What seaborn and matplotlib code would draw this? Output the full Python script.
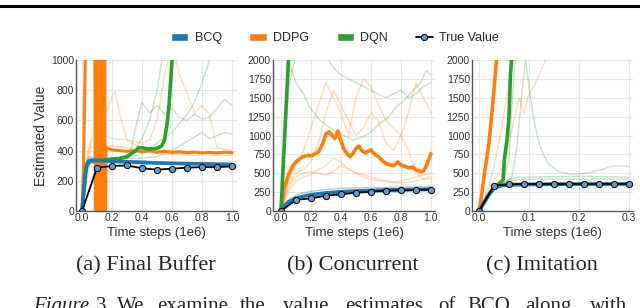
import numpy as np
import pandas as pd
import matplotlib
matplotlib.use("Agg")
import matplotlib.pyplot as plt
import seaborn as sns
from matplotlib.lines import Line2D
from matplotlib.patches import Patch

# ==========================================
# 1. DATA
# ==========================================
C_BCQ = "#1f77b4"
C_DDPG = "#ff7f0e"
C_DQN = "#2ca02c"

# ---- (a) Final Buffer ----
a_true_x = [0, .1, .2, .3, .4, .5, .6, .7, .8, .9, 1.0]
a_true_y = [0, 287, 298, 302, 283, 274, 280, 287, 291, 291, 295]

a_bcq_x = [0, .01, .02, .03, .04, .06, .1, .2, .3, .4, .5, .6, .7, .8, .9, 1.0]
a_bcq_y = [0, 110, 230, 300, 325, 338, 335, 330, 326, 322, 318, 316, 314, 312, 310, 308]
a_bcq_s1 = [0, 120, 260, 330, 350, 362, 345, 338, 332, 330, 325, 322, 320, 318, 316, 315]
a_bcq_s2 = [0, 90, 200, 270, 300, 315, 322, 320, 315, 312, 310, 308, 305, 303, 302, 300]

a_dqn_x = [0, .01, .02, .03, .04, .05, .1, .15, .2, .25, .3, .33, .36, .38, .4,
           .45, .5, .53, .55, .57, .58, .59, .6, .61]
a_dqn_y = [0, 100, 220, 290, 320, 330, 335, 338, 345, 348, 360, 380, 400, 420, 418,
           410, 415, 430, 470, 600, 700, 850, 1000, 1200]

a_ddpg_x = [0, .01, .02, .03, .04, .05, .08, .09, .094, .098, .102, .106, .11, .114,
            .118, .122, .126, .13, .134, .138, .142, .146, .15, .154, .16, .2, .25,
            .3, .35, .4, .45, .5, .55, .6, .65, .7, .75, .8, .85, .9, .95, 1.0]
a_ddpg_y = [0, 300, 900, 1600, 2600, 3000, 3000, -500, 3000, -500, 3000, -500, 3000,
            -500, 3000, -500, 3000, -500, 3000, -500, 3000, -500, 3000, -500, 420,
            405, 400, 395, 400, 392, 398, 390, 395, 388, 392, 386, 390, 385, 388,
            384, 390, 386]

a_ddpg_s1_x = [0, .03, .06, .1, .15, .2, .22, .25, .3, .35, .4, .5, .6, .7, .8, .9, 1.0]
a_ddpg_s1_y = [0, 350, 480, 500, 620, 760, 790, 650, 470, 440, 420, 410, 400, 395,
               390, 392, 388]
a_ddpg_s2_x = [0, .03, .06, .1, .15, .2, .3, .4, .45, .5, .55, .6, .65, .7, .75,
               .8, .85, .9, 1.0]
a_ddpg_s2_y = [0, 300, 460, 490, 500, 480, 470, 450, 470, 600, 900, 1100, 900, 780,
               650, 700, 640, 420, 400]
a_ddpg_s3_x = [0, .03, .06, .1, .2, .3, .4, .5, .6, .7, .8, .9, 1.0]
a_ddpg_s3_y = [0, 280, 420, 440, 430, 420, 400, 380, 375, 370, 372, 368, 370]

a_dqn_s1_x = [0, .03, .06, .1, .2, .3, .33, .36, .38, .4, .45, .5, .55, .6, .65,
              .7, .75, .8, .85, .9, .95, 1.0]
a_dqn_s1_y = [0, 300, 330, 340, 345, 350, 420, 560, 650, 720, 650, 700, 640, 680,
              620, 600, 640, 610, 620, 680, 740, 700]
a_dqn_s2_x = [0, .03, .06, .1, .2, .3, .4, .5, .55, .6, .65, .7, .75, .8, .85, .9,
              .95, 1.0]
a_dqn_s2_y = [0, 290, 320, 330, 340, 345, 350, 360, 380, 400, 430, 460, 490, 520,
              480, 500, 520, 510]
a_dqn_s3_x = [0, .03, .06, .1, .2, .3, .4, .5, .6, .7, .75, .8, .85, .88]
a_dqn_s3_y = [0, 300, 325, 335, 340, 350, 380, 450, 520, 640, 720, 850, 1000, 1100]
a_dqn_s4_x = [0, .05, .1, .2, .3, .35, .4, .45, .5, .55]
a_dqn_s4_y = [0, 310, 330, 340, 360, 400, 480, 600, 800, 1100]

# ---- (b) Concurrent ----
b_true_x = [0, .1, .2, .3, .4, .5, .6, .7, .8, .9, 1.0]
b_true_y = [0, 146, 168, 203, 221, 243, 256, 269, 274, 278, 283]

b_bcq_x = [0, .02, .05, .1, .15, .2, .3, .4, .5, .6, .7, .8, .9, 1.0]
b_bcq_y = [0, 60, 120, 170, 195, 215, 240, 255, 265, 272, 278, 282, 286, 290]
b_bcq_s1 = [0, 80, 150, 210, 240, 260, 285, 300, 305, 310, 312, 318, 320, 325]
b_bcq_s2 = [0, 40, 90, 140, 160, 180, 205, 220, 235, 245, 250, 255, 262, 265]

b_ddpg_x = [0, .02, .05, .08, .1, .13, .15, .18, .2, .23, .25, .28, .3, .32, .34,
            .36, .38, .4, .42, .44, .46, .48, .5, .52, .54, .56, .58, .6, .62, .65,
            .68, .7, .73, .75, .78, .8, .83, .85, .88, .9, .93, .95, .97, 1.0]
b_ddpg_y = [0, 280, 480, 600, 650, 700, 720, 740, 730, 760, 780, 900, 1020, 1050,
            1000, 960, 1060, 930, 820, 760, 720, 760, 830, 860, 800, 770, 790, 810,
            760, 720, 660, 630, 610, 600, 650, 610, 590, 570, 580, 545, 520, 530,
            600, 760]

b_dqn_x = [0, .02, .04, .05, .06]
b_dqn_y = [0, 800, 1600, 2000, 2400]

b_seed_x = [0, .05, .1, .15, .2, .25, .3, .35, .4, .45, .5, .55, .6, .65, .7, .75,
            .8, .85, .9, .95, 1.0]
b_ddpg_s1 = [0, 400, 600, 800, 1100, 1400, 1700, 1500, 1300, 1000, 1500, 1750, 1650,
             1400, 1200, 1100, 1000, 800, 500, 420, 460]
b_ddpg_s2 = [0, 350, 500, 550, 650, 900, 1300, 1600, 1400, 1200, 1000, 1100, 1300,
             1200, 900, 800, 1000, 1300, 1700, 1500, 1300]
b_ddpg_s3 = [0, 300, 450, 500, 520, 500, 480, 520, 600, 560, 500, 480, 450, 420,
             400, 380, 400, 420, 450, 480, 500]
b_ddpg_s4 = [0, 250, 400, 450, 480, 550, 600, 700, 650, 550, 500, 450, 420, 400,
             390, 380, 370, 380, 400, 420, 430]

b_dqn_s1_x = [0, .02, .05, .1, .15, .19, .26, .35, .42, .48, .55, .6, .66, .72, .77,
              .83, .88, .93, .97, 1.0]
b_dqn_s1_y = [0, 700, 2000, 1700, 1550, 1380, 1200, 1070, 1000, 940, 985, 1050, 1160,
              1250, 1380, 1480, 1600, 1700, 1860, 1800]
b_dqn_s2_x = [0, .02, .05, .1, .2, .25, .3, .35, .4, .45, .5, .55, .6, .65, .7, .75,
              .8, .85, .9, .95, 1.0]
b_dqn_s2_y = [0, 700, 1600, 2100, 2300, 2200, 2050, 1900, 1800, 1750, 1700, 1650,
              1600, 1550, 1500, 1550, 1600, 1500, 1550, 1650, 1700]

# ---- (c) Imitation ----
c_true_x = [0, .03, .06, .09, .12, .15, .18, .21, .24, .27, .30]
c_true_y = [0, 336, 353, 357, 358, 357, 358, 357, 358, 358, 358]

c_bcq_x = [0, .01, .02, .03, .04, .05, .06, .1, .15, .2, .25, .3]
c_bcq_y = [0, 110, 220, 300, 330, 342, 348, 352, 355, 356, 357, 358]
c_bcq_s1 = [0, 130, 250, 325, 350, 360, 365, 368, 370, 372, 372, 373]
c_bcq_s2 = [0, 90, 190, 275, 310, 325, 332, 338, 340, 342, 343, 344]

c_ddpg_x = [0, .005, .011, .02, .027, .035, .04]
c_ddpg_y = [0, 200, 500, 900, 1380, 2000, 2500]

c_dqn_x = [0, .01, .02, .03, .04, .048, .051, .056, .06, .063, .065, .067]
c_dqn_y = [0, 110, 220, 320, 360, 410, 700, 940, 1250, 1820, 2000, 2300]

c_ddpg_s1_x = [0, .01, .02, .03, .04, .05, .06, .07, .08]
c_ddpg_s1_y = [0, 150, 350, 600, 900, 1300, 1700, 2000, 2300]
c_ddpg_s2_x = [0, .02, .04, .05, .06, .07, .08, .09, .1, .11, .12, .13, .14]
c_ddpg_s2_y = [0, 300, 500, 650, 900, 1200, 1500, 1300, 1550, 1650, 1800, 1950, 2100]

c_dqn_s1_x = [0, .03, .05, .065, .075, .085, .093, .1, .11, .12, .13, .14, .16,
              .18, .2, .22, .24, .26, .27, .3]
c_dqn_s1_y = [0, 310, 380, 430, 800, 1500, 2000, 1650, 1200, 900, 730, 620, 520,
              490, 490, 510, 540, 580, 600, 590]
c_dqn_s2_x = [0, .03, .05, .06, .08, .1, .15, .2, .25, .3]
c_dqn_s2_y = [0, 300, 370, 420, 445, 450, 455, 460, 455, 445]
c_dqn_s3_y = [0, 300, 360, 400, 415, 420, 425, 420, 425, 420]
c_dqn_s4_x = [0, .03, .05, .06, .065, .07, .075]
c_dqn_s4_y = [0, 320, 400, 700, 1300, 1800, 2200]

# caption words (cut at the bottom edge, as in the source) and their left x (px)
cap_words = ["Figure", "3.", "We", "examine", "the", "value", "estimates", "of",
             "BCQ,", "along", "with"]
cap_x = [33, 96, 117, 157, 240, 283, 345, 438, 467, 525, 590]

# ==========================================
# 2. STYLE
# ==========================================
sns.set_style("whitegrid")
plt.rcParams["font.family"] = ["Liberation Sans", "DejaVu Sans"]

fig = plt.figure(figsize=(6.4, 3.08), dpi=100)

W, H = 640.0, 308.0
ax_a = fig.add_axes([76 / W, 97 / H, 161 / W, 151 / H])
ax_b = fig.add_axes([273 / W, 97 / H, 162 / W, 151 / H])
ax_c = fig.add_axes([472 / W, 97 / H, 161 / W, 151 / H])


def seed(ax, x, y, color, a=0.28):
    sns.lineplot(x=x, y=y, ax=ax, color=color, lw=1.0, alpha=a, sort=False)


def main(ax, x, y, color, lw=2.6):
    sns.lineplot(x=x, y=y, ax=ax, color=color, lw=lw, sort=False)


def true_line(ax, x, y):
    sns.lineplot(x=x, y=y, ax=ax, color="black", lw=1.3, marker="o",
                 markersize=4.5, markerfacecolor="#5b9bd5",
                 markeredgecolor="black", markeredgewidth=0.7, sort=False)


# ==========================================
# 3. PANELS
# ==========================================
# (a)
seed(ax_a, a_ddpg_s1_x, a_ddpg_s1_y, C_DDPG)
seed(ax_a, a_ddpg_s2_x, a_ddpg_s2_y, C_DDPG)
seed(ax_a, a_ddpg_s3_x, a_ddpg_s3_y, C_DDPG)
seed(ax_a, a_dqn_s1_x, a_dqn_s1_y, C_DQN)
seed(ax_a, a_dqn_s2_x, a_dqn_s2_y, C_DQN)
seed(ax_a, a_dqn_s3_x, a_dqn_s3_y, C_DQN)
seed(ax_a, a_dqn_s4_x, a_dqn_s4_y, C_DQN)
seed(ax_a, a_bcq_x, a_bcq_s1, C_BCQ, 0.35)
seed(ax_a, a_bcq_x, a_bcq_s2, C_BCQ, 0.35)
main(ax_a, a_ddpg_x, a_ddpg_y, C_DDPG, 2.2)
main(ax_a, a_dqn_x, a_dqn_y, C_DQN)
main(ax_a, a_bcq_x, a_bcq_y, C_BCQ)
true_line(ax_a, a_true_x, a_true_y)

# (b)
seed(ax_b, b_seed_x, b_ddpg_s1, C_DDPG)
seed(ax_b, b_seed_x, b_ddpg_s2, C_DDPG)
seed(ax_b, b_seed_x, b_ddpg_s3, C_DDPG)
seed(ax_b, b_seed_x, b_ddpg_s4, C_DDPG)
seed(ax_b, b_dqn_s1_x, b_dqn_s1_y, C_DQN)
seed(ax_b, b_dqn_s2_x, b_dqn_s2_y, C_DQN)
seed(ax_b, b_bcq_x, b_bcq_s1, C_BCQ, 0.35)
seed(ax_b, b_bcq_x, b_bcq_s2, C_BCQ, 0.35)
main(ax_b, b_ddpg_x, b_ddpg_y, C_DDPG)
main(ax_b, b_dqn_x, b_dqn_y, C_DQN)
main(ax_b, b_bcq_x, b_bcq_y, C_BCQ)
true_line(ax_b, b_true_x, b_true_y)

# (c)
seed(ax_c, c_ddpg_s1_x, c_ddpg_s1_y, C_DDPG)
seed(ax_c, c_ddpg_s2_x, c_ddpg_s2_y, C_DDPG)
seed(ax_c, c_dqn_s1_x, c_dqn_s1_y, C_DQN)
seed(ax_c, c_dqn_s2_x, c_dqn_s2_y, C_DQN)
seed(ax_c, c_dqn_s2_x, c_dqn_s3_y, C_DQN)
seed(ax_c, c_dqn_s4_x, c_dqn_s4_y, C_DQN)
seed(ax_c, c_bcq_x, c_bcq_s1, C_BCQ, 0.35)
seed(ax_c, c_bcq_x, c_bcq_s2, C_BCQ, 0.35)
main(ax_c, c_ddpg_x, c_ddpg_y, C_DDPG)
main(ax_c, c_dqn_x, c_dqn_y, C_DQN)
main(ax_c, c_bcq_x, c_bcq_y, C_BCQ)
true_line(ax_c, c_true_x, c_true_y)

# ==========================================
# 4. AXES FORMAT
# ==========================================
ax_a.set_xlim(-0.04, 1.033)
ax_a.set_ylim(0, 1000)
ax_a.set_xticks([0, .2, .4, .6, .8, 1.0])
ax_a.set_yticks([0, 200, 400, 600, 800, 1000])

ax_b.set_xlim(-0.053, 1.027)
ax_b.set_ylim(0, 2000)
ax_b.set_xticks([0, .2, .4, .6, .8, 1.0])
ax_b.set_yticks([0, 250, 500, 750, 1000, 1250, 1500, 1750, 2000])

ax_c.set_xlim(-0.014, 0.308)
ax_c.set_ylim(0, 2000)
ax_c.set_xticks([0, .1, .2, .3])
ax_c.set_yticks([0, 250, 500, 750, 1000, 1250, 1500, 1750, 2000])

for ax in [ax_a, ax_b, ax_c]:
    ax.grid(True, color="#e6e6e6", lw=0.8)
    for s in ["top", "right"]:
        ax.spines[s].set_visible(False)
    for s in ["left", "bottom"]:
        ax.spines[s].set_color("#555555")
        ax.spines[s].set_linewidth(1.0)
    ax.tick_params(length=0, pad=1.5, labelsize=7.5, labelcolor="#333333")
    ax.xaxis.set_major_formatter(plt.FormatStrFormatter("%.1f"))
    ax.set_xlabel("Time steps (1e6)", fontsize=9.5, color="#333333", labelpad=3)
    ax.set_ylabel("")

ax_a.set_ylabel("Estimated Value", fontsize=10, color="#333333", labelpad=2)

# ==========================================
# 5. LEGEND, RULE, CAPTIONS
# ==========================================
handles = [
    Patch(facecolor=C_BCQ, label="BCQ"),
    Patch(facecolor=C_DDPG, label="DDPG"),
    Patch(facecolor=C_DQN, label="DQN"),
    Line2D([0], [0], color="black", lw=1.3, marker="o", markersize=4.5,
           markerfacecolor="#5b9bd5", markeredgecolor="black",
           markeredgewidth=0.7, label="True Value"),
]
fig.legend(handles=handles, loc="center", ncol=4, frameon=False, fontsize=9,
           bbox_to_anchor=(335 / W, 1 - 38 / H), handlelength=1.4,
           handleheight=0.6, handletextpad=0.5, columnspacing=2.2)

fig.add_artist(Line2D([0, 1], [1 - 5.5 / H, 1 - 5.5 / H], color="black", lw=2.2))

serif = ["Liberation Serif", "DejaVu Serif"]
fig.text(146 / W, 1 - 270 / H, "(a) Final Buffer", ha="center", va="baseline",
         fontsize=16, family=serif)
fig.text(353 / W, 1 - 270 / H, "(b) Concurrent", ha="center", va="baseline",
         fontsize=16, family=serif)
fig.text(542 / W, 1 - 270 / H, "(c) Imitation", ha="center", va="baseline",
         fontsize=16, family=serif)
for word, xp in zip(cap_words, cap_x):
    fig.text(xp / W, 1 - 311 / H, word, ha="left", va="baseline", fontsize=15,
             family=serif, style="italic" if word == "Figure" else "normal")

fig.savefig("out.png", dpi=100)
